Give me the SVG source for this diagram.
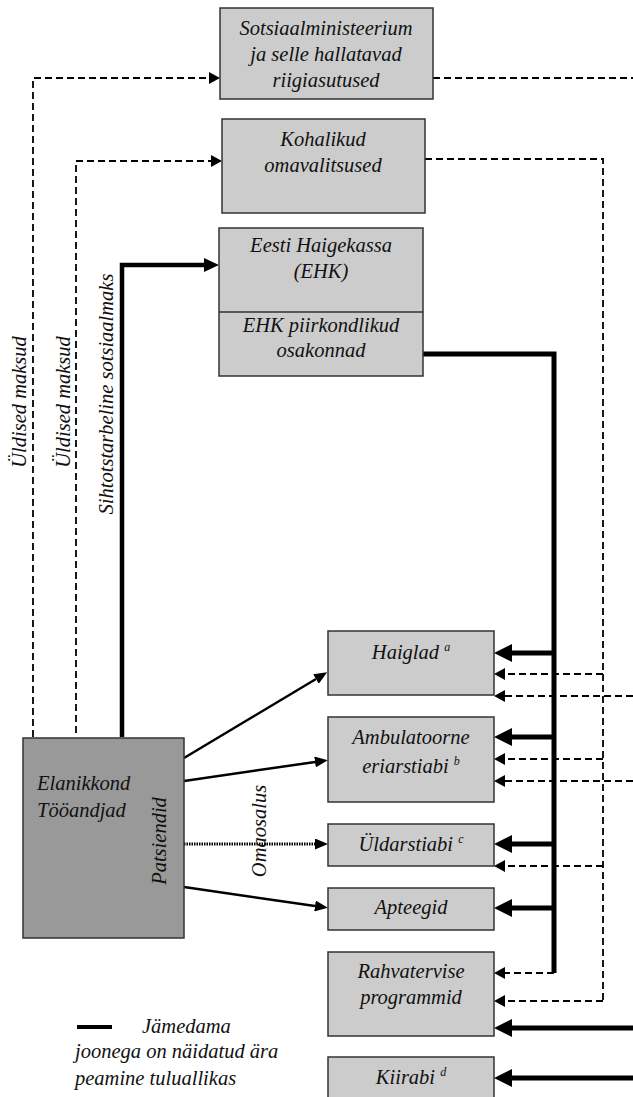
<svg xmlns="http://www.w3.org/2000/svg" width="633" height="1097" viewBox="0 0 633 1097">
<defs>
<style>
.box{fill:#cccccc;stroke:#333;stroke-width:1.5}
.dark{fill:#999999;stroke:#333;stroke-width:1.5}
text{font-family:"Liberation Serif","Times New Roman",serif;font-style:italic;font-size:20.5px;fill:#111}
.c{text-anchor:middle}
.thick{stroke:#000;stroke-width:5;fill:none}
.med{stroke:#000;stroke-width:4.5;fill:none}
.thin{stroke:#000;stroke-width:2.5;fill:none}
.dash{stroke:#000;stroke-width:2.2;stroke-dasharray:7,4;fill:none}
.dashv{stroke:#000;stroke-width:1.8;stroke-dasharray:7,4;fill:none}
.dot{stroke:#000;stroke-width:3;stroke-dasharray:1.5,1;fill:none}
</style>
<marker id="aThick" markerUnits="userSpaceOnUse" markerWidth="18" markerHeight="18" refX="0" refY="9" orient="auto"><path d="M0,0 L18,9 L0,18 z" fill="#000"/></marker>
<marker id="aMed" markerUnits="userSpaceOnUse" markerWidth="15" markerHeight="14" refX="0" refY="7" orient="auto"><path d="M0,0 L15,7 L0,14 z" fill="#000"/></marker>
<marker id="aThin" markerUnits="userSpaceOnUse" markerWidth="13" markerHeight="11" refX="0" refY="5.5" orient="auto"><path d="M0,0 L13,5.5 L0,11 z" fill="#000"/></marker>
<marker id="aDash" markerUnits="userSpaceOnUse" markerWidth="11" markerHeight="12" refX="0" refY="6" orient="auto"><path d="M0,0 L11,6 L0,12 z" fill="#000"/></marker>
</defs>
<rect width="633" height="1097" fill="#fff"/>

<g id="connectors">
  <!-- left dashed: Üldised maksud to Sotsiaalministeerium -->
  <path class="dashv" d="M33,737 V78 H209" marker-end="url(#aDash)"/>
  <!-- left dashed: Üldised maksud to Kohalikud omavalitsused -->
  <path class="dashv" d="M76,733 V161 H211" marker-end="url(#aDash)"/>
  <!-- Sihtotstarbeline sotsiaalmaks to EHK -->
  <path class="med" d="M122,737 V265 H204" marker-end="url(#aMed)"/>
  <!-- Sotsiaalministeerium out -->
  <path class="dash" d="M433,78 H633"/>
  <!-- Kohalikud omavalitsused trunk -->
  <path class="dashv" d="M425,159 H603 V1001"/>
  <path class="dash" d="M603,674 H505" marker-end="url(#aDash)"/>
  <path class="dash" d="M603,759 H505" marker-end="url(#aDash)"/>
  <path class="dash" d="M603,866 H505" marker-end="url(#aDash)"/>
  <path class="dash" d="M603,1001 H505" marker-end="url(#aDash)"/>
  <!-- EHK trunk -->
  <path class="thick" d="M423,354 H554 V973"/>
  <path class="thick" d="M554,653 H512" marker-end="url(#aThick)"/>
  <path class="thick" d="M554,737 H512" marker-end="url(#aThick)"/>
  <path class="thick" d="M554,844 H512" marker-end="url(#aThick)"/>
  <path class="thick" d="M554,908 H512" marker-end="url(#aThick)"/>
  <path class="dash" d="M554,973 H505" marker-end="url(#aDash)"/>
  <!-- from right edge -->
  <path class="dash" d="M633,696 H505" marker-end="url(#aDash)"/>
  <path class="dash" d="M633,781 H505" marker-end="url(#aDash)"/>
  <path class="thick" d="M633,1028 H512" marker-end="url(#aThick)"/>
  <path class="thick" d="M633,1078 H512" marker-end="url(#aThick)"/>
  <!-- Patsiendid -->
  <path class="thin" d="M184,758 L316,679" marker-end="url(#aThin)"/>
  <path class="thin" d="M184,781 L315,762" marker-end="url(#aThin)"/>
  <path class="dot" d="M184,844 H315" marker-end="url(#aThin)"/>
  <path class="thin" d="M184,887 L315,906" marker-end="url(#aThin)"/>
  <!-- connector labels -->
  <text class="c" transform="translate(26,402) rotate(-90)">Üldised maksud</text>
  <text class="c" transform="translate(70,402) rotate(-90)">Üldised maksud</text>
  <text class="c" transform="translate(113,394) rotate(-90)">Sihtotstarbeline sotsiaalmaks</text>
  <text class="c" transform="translate(266,831) rotate(-90)">Omaosalus</text>
</g>

<g id="sotsiaalministeerium">
  <rect class="box" x="220" y="8" width="213" height="91"/>
  <text class="c" x="326" y="35">Sotsiaalministeerium</text>
  <text class="c" x="326" y="61">ja selle hallatavad</text>
  <text class="c" x="326" y="87">riigiasutused</text>
</g>
<g id="kohalikud">
  <rect class="box" x="222" y="119" width="203" height="94"/>
  <text class="c" x="323" y="146">Kohalikud</text>
  <text class="c" x="323" y="172">omavalitsused</text>
</g>
<g id="ehk">
  <rect class="box" x="219" y="228" width="204" height="148"/>
  <line x1="219" y1="312" x2="423" y2="312" stroke="#333" stroke-width="1.5"/>
  <text class="c" x="321" y="252">Eesti Haigekassa</text>
  <text class="c" x="321" y="278">(EHK)</text>
  <text class="c" x="321" y="332">EHK piirkondlikud</text>
  <text class="c" x="321" y="357">osakonnad</text>
</g>
<g id="elanikkond">
  <rect class="dark" x="23" y="738" width="161" height="200"/>
  <text x="37" y="790">Elanikkond</text>
  <text x="37" y="817">Tööandjad</text>
  <text class="c" transform="translate(166,841) rotate(-90)">Patsiendid</text>
</g>
<g id="haiglad">
  <rect class="box" x="328" y="631" width="166" height="64"/>
  <text class="c" x="411" y="659">Haiglad <tspan font-size="12" dy="-8">a</tspan></text>
</g>
<g id="ambulatoorne">
  <rect class="box" x="328" y="717" width="166" height="85"/>
  <text class="c" x="411" y="744">Ambulatoorne</text>
  <text class="c" x="411" y="773">eriarstiabi <tspan font-size="12" dy="-8">b</tspan></text>
</g>
<g id="uldarstiabi">
  <rect class="box" x="328" y="824" width="166" height="42"/>
  <text class="c" x="411" y="851">Üldarstiabi <tspan font-size="12" dy="-8">c</tspan></text>
</g>
<g id="apteegid">
  <rect class="box" x="328" y="888" width="166" height="42"/>
  <text class="c" x="411" y="914">Apteegid</text>
</g>
<g id="rahvatervise">
  <rect class="box" x="328" y="952" width="166" height="84"/>
  <text class="c" x="411" y="978">Rahvatervise</text>
  <text class="c" x="411" y="1004">programmid</text>
</g>
<g id="kiirabi">
  <rect class="box" x="328" y="1057" width="166" height="45"/>
  <text class="c" x="411" y="1084">Kiirabi <tspan font-size="12" dy="-8">d</tspan></text>
</g>
<g id="legend">
  <line x1="77" y1="1027" x2="112" y2="1027" stroke="#000" stroke-width="4"/>
  <text x="142" y="1033">Jämedama</text>
  <text x="75" y="1058">joonega on näidatud ära</text>
  <text x="75" y="1085">peamine tuluallikas</text>
</g>
</svg>
